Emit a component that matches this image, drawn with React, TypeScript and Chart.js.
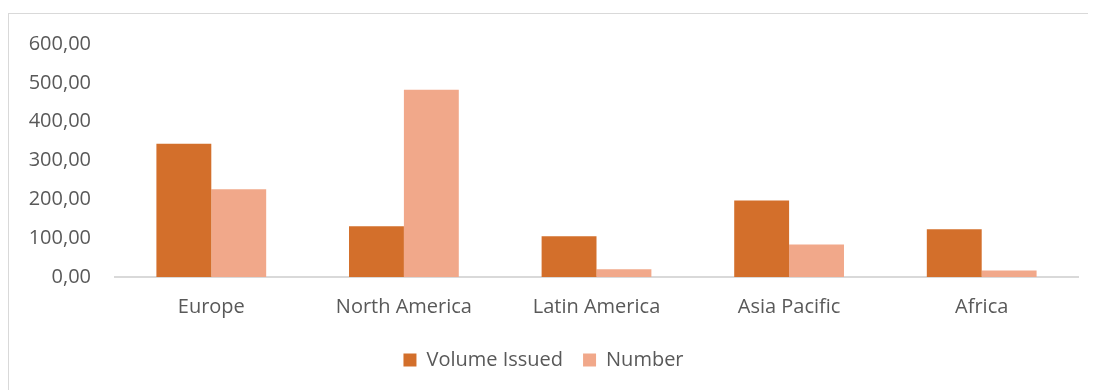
import React, { useEffect, useRef } from "react";
import { Chart, registerables } from "chart.js";

Chart.register(...registerables);

const categories = ["Europe", "North America", "Latin America", "Asia Pacific", "Africa"];
const volumeIssued = [343, 131, 105, 197, 123];
const numberValues = [226, 482, 20, 84, 17];
const seriesNames = ["Volume Issued", "Number"];

const FONT = "'Open Sans', Lato, sans-serif";

export default function App() {
  const ref = useRef<HTMLCanvasElement | null>(null);
  useEffect(() => {
    if (!ref.current) return;
    const chart = new Chart(ref.current, {
      type: "bar",
      data: {
        labels: categories,
        datasets: [
          {
            label: seriesNames[0],
            data: volumeIssued,
            backgroundColor: "#D36F2B",
            categoryPercentage: 0.57,
            barPercentage: 1,
          },
          {
            label: seriesNames[1],
            data: numberValues,
            backgroundColor: "#F1A88A",
            categoryPercentage: 0.57,
            barPercentage: 1,
          },
        ],
      },
      options: {
        animation: false,
        responsive: true,
        maintainAspectRatio: false,
        layout: { padding: { top: 22, right: 11, left: 0, bottom: 10 } },
        plugins: {
          tooltip: { enabled: false },
          legend: {
            position: "bottom",
            labels: {
              boxWidth: 13,
              boxHeight: 13,
              padding: 20,
              color: "#595959",
              font: { family: FONT, size: 20 },
            },
          },
        },
        scales: {
          x: {
            grid: { display: false, drawTicks: false },
            border: { display: true, color: "#d9d9d9", width: 2 },
            ticks: {
              color: "#595959",
              font: { family: FONT, size: 20 },
              padding: 18,
            },
            afterFit: (scale: any) => {
              scale.height = 53;
            },
          },
          y: {
            min: 0,
            max: 600,
            grid: { display: false, drawTicks: false },
            border: { display: false },
            ticks: {
              stepSize: 100,
              color: "#595959",
              font: { family: FONT, size: 20 },
              padding: 24,
              callback: (v: any) => Number(v).toFixed(2).replace(".", ","),
            },
            afterFit: (scale: any) => {
              scale.width = 106;
            },
          },
        },
      },
    });
    return () => chart.destroy();
  }, []);
  return (
    <div
      style={{
        marginTop: 5,
        width: 1110,
        height: 400,
        border: "1px solid #d9d9d9",
        position: "relative",
      }}
    >
      <div style={{ position: "absolute", left: 0, top: -6, width: 1080, height: 382 }}>
        <canvas ref={ref} />
      </div>
    </div>
  );
}
